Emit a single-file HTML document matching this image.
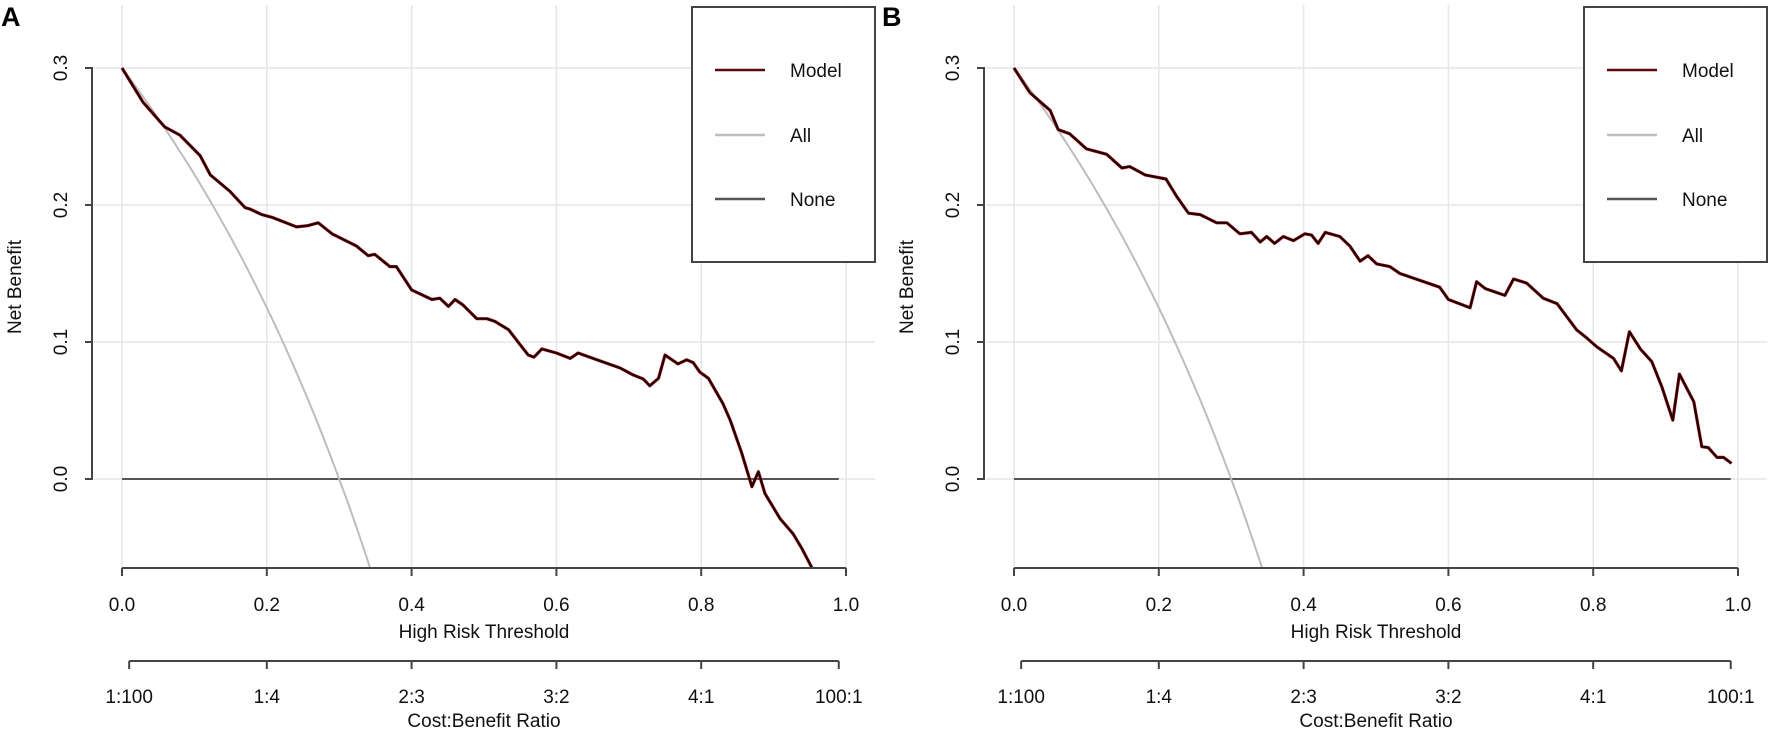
<!DOCTYPE html>
<html><head><meta charset="utf-8"><style>
html,body{margin:0;padding:0;background:#fff;}
svg{display:block;font-family:"Liberation Sans",Arial,sans-serif;}
</style></head><body>
<svg id="fig" width="1772" height="734" viewBox="0 0 1772 734">
  <text x="1" y="26" font-size="27" font-weight="bold" fill="#000">A</text>
  <text x="882" y="26" font-size="27" font-weight="bold" fill="#000">B</text>
</svg>
<script>
const xTicks=[0,0.2,0.4,0.6,0.8,1.0];
const xTickLabels=["0.0","0.2","0.4","0.6","0.8","1.0"];
const yTicks=[0,0.1,0.2,0.3];
const yTickLabels=["0.0","0.1","0.2","0.3"];
const cbTicks=[0.0099,0.2,0.4,0.6,0.8,0.99];
const cbLabels=["1:100","1:4","2:3","3:2","4:1","100:1"];
const prevalence=0.3;
const modelA_t=[0,.029,.059,.080,.108,.122,.149,.170,.177,.193,.207,.241,.257,.271,.290,.324,.340,.349,.370,.379,.400,.428,.439,.451,.460,.471,.490,.504,.515,.534,.547,.561,.569,.580,.600,.619,.630,.656,.688,.706,.720,.729,.741,.750,.768,.780,.789,.798,.810,.830,.840,.856,.870,.879,.888,.909,.927,.939,.953];
const modelA_v=[.300,.275,.257,.251,.236,.222,.210,.198,.197,.193,.191,.184,.185,.187,.179,.170,.163,.164,.155,.155,.138,.131,.132,.126,.131,.127,.117,.117,.115,.109,.100,.0905,.089,.095,.092,.088,.092,.087,.081,.076,.073,.068,.0735,.0905,.084,.087,.085,.078,.0735,.055,.043,.019,-.0056,.0053,-.0105,-.029,-.040,-.0506,-.065];
const modelB_t=[0,.022,.050,.061,.077,.100,.128,.149,.160,.181,.210,.225,.241,.257,.280,.294,.312,.328,.340,.349,.360,.372,.386,.402,.411,.420,.430,.450,.464,.478,.489,.501,.519,.533,.588,.600,.630,.639,.651,.678,.690,.708,.731,.750,.777,.791,.805,.828,.839,.850,.865,.881,.895,.910,.919,.939,.950,.959,.971,.980,.991];
const modelB_v=[.300,.282,.269,.255,.252,.241,.237,.227,.228,.222,.219,.206,.194,.193,.187,.187,.179,.180,.173,.177,.172,.177,.174,.179,.178,.172,.180,.177,.170,.159,.163,.157,.155,.150,.140,.131,.125,.144,.139,.134,.146,.143,.132,.128,.109,.103,.0965,.088,.079,.1075,.095,.0856,.067,.043,.0766,.0564,.0236,.0229,.0158,.0158,.0114];

const NS="http://www.w3.org/2000/svg";
const svg=document.getElementById('fig');
const FS=19;
function mk(tag,attrs,parent){const e=document.createElementNS(NS,tag);for(const k in attrs)e.setAttribute(k,attrs[k]);(parent||svg).appendChild(e);return e;}

function panel(x0,tArr,vArr,suffix){
  const xs=t=>x0+724*t;
  const ys=v=>479-1370*v;
  const g=mk('g',{});
  
  
  const clipId='clip'+suffix;
  const cp=mk('clipPath',{id:clipId},g);
  mk('rect',{x:x0-30,y:5,width:785,height:ys(-0.065)-5+1},cp);
  xTicks.forEach(t=>{const l=mk('line',{x1:xs(t),x2:xs(t),y1:5,y2:ys(-0.065),stroke:'#e6e6e6','stroke-width':1.5},g);
    
    });
  yTicks.forEach(v=>{const l=mk('line',{x1:x0-28,x2:x0+753,y1:ys(v),y2:ys(v),stroke:'#e6e6e6','stroke-width':1.5},g);
    
    });
  const none=mk('line',{x1:xs(0),x2:xs(0.99),y1:ys(0),y2:ys(0),stroke:'#555','stroke-width':2},g);
  
  
  let d='';
  for(let i=0;i<=200;i++){const t=i/200*0.36;const v=prevalence-(1-prevalence)*t/(1-t);d+=(i?'L':'M')+xs(t).toFixed(1)+' '+ys(v).toFixed(1);}
  const all=mk('path',{d:d,fill:'none',stroke:'#bdbdbd','stroke-width':2,'clip-path':'url(#'+clipId+')'},g);
  
  
  let md=tArr.map((t,i)=>(i?'L':'M')+xs(t).toFixed(1)+' '+ys(vArr[i]).toFixed(1)).join('');
  const m2=mk('path',{d:md,fill:'none',stroke:'#c4161c','stroke-width':3.2,'stroke-linejoin':'round','clip-path':'url(#'+clipId+')'},g);
  
  
  const m=mk('path',{d:md,fill:'none',stroke:'#1a0505','stroke-width':2.2,'stroke-linejoin':'round','clip-path':'url(#'+clipId+')'},g);
  
  
  const ax=x0-30;
  const ya=mk('path',{d:'M'+(ax-7)+' '+ys(0)+'H'+ax+'V'+ys(0.3)+'H'+(ax-7),fill:'none',stroke:'#444','stroke-width':2},g);
  
  
  yTicks.forEach((v,i)=>{
    const tk=mk('line',{x1:ax-7,x2:ax,y1:ys(v),y2:ys(v),stroke:'#444','stroke-width':2},g);
    
    
    const tx=mk('text',{x:ax-25,y:ys(v),'font-size':FS,'text-anchor':'middle',transform:'rotate(-90 '+(ax-25)+' '+ys(v)+')',fill:'#111'},g);
    tx.textContent=yTickLabels[i];
    
    });
  const yt=mk('text',{x:x0-101,y:287,'font-size':FS,'text-anchor':'middle',transform:'rotate(-90 '+(x0-101)+' 287)',fill:'#111'},g);
  yt.textContent='Net Benefit';
  
  
  const xa=mk('line',{x1:xs(0),x2:xs(1),y1:568,y2:568,stroke:'#444','stroke-width':2},g);
  
  
  xTicks.forEach((t,i)=>{
    const tk=mk('line',{x1:xs(t),x2:xs(t),y1:568,y2:576,stroke:'#444','stroke-width':2},g);
    
    
    const tx=mk('text',{x:xs(t),y:611,'font-size':FS,'text-anchor':'middle',fill:'#111'},g);
    tx.textContent=xTickLabels[i];
    
    });
  const xt=mk('text',{x:xs(0.5),y:638,'font-size':FS,'text-anchor':'middle',fill:'#111'},g);
  xt.textContent='High Risk Threshold';
  
  
  const ca=mk('line',{x1:xs(cbTicks[0]),x2:xs(cbTicks[5]),y1:661,y2:661,stroke:'#444','stroke-width':2},g);
  
  
  cbTicks.forEach((t,i)=>{
    const tk=mk('line',{x1:xs(t),x2:xs(t),y1:661,y2:669,stroke:'#444','stroke-width':2},g);
    
    
    const tx=mk('text',{x:xs(t),y:703,'font-size':FS,'text-anchor':'middle',fill:'#111'},g);
    tx.textContent=cbLabels[i];
    
    });
  const ct=mk('text',{x:xs(0.5),y:727,'font-size':FS,'text-anchor':'middle',fill:'#111'},g);
  ct.textContent='Cost:Benefit Ratio';
  
  
  const lx=x0+570;
  const lg=mk('g',{},g);
  
  
  mk('rect',{x:lx,y:7,width:183,height:255,fill:'#fff',stroke:'#444','stroke-width':2},lg);
  const items=[['Model','#5a0a0a',70],['All','#bdbdbd',135],['None','#555',199]];
  items.forEach(it=>{
    const ln=mk('line',{x1:lx+23,x2:lx+73,y1:it[2],y2:it[2],stroke:it[1],'stroke-width':2.5},lg);
    
    
    const tx=mk('text',{x:lx+98,y:it[2]+7,'font-size':FS,fill:'#111'},lg);
    tx.textContent=it[0];
    
    
  });
}
panel(122,modelA_t,modelA_v,'a');
panel(1014,modelB_t,modelB_v,'b');
</script>
</body></html>
